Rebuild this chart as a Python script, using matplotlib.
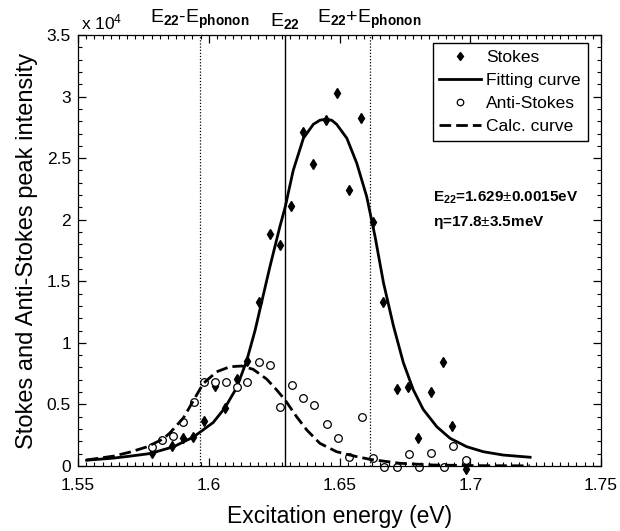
import matplotlib
matplotlib.use("Agg")
import matplotlib.pyplot as plt
import matplotlib.transforms as mtransforms
import numpy as np
from matplotlib.ticker import AutoMinorLocator, FixedLocator

plt.rcParams['font.family'] = ['Liberation Sans', 'DejaVu Sans']
plt.rcParams['mathtext.fontset'] = 'custom'
plt.rcParams['mathtext.rm'] = 'Liberation Sans'
plt.rcParams['mathtext.it'] = 'Liberation Sans:italic'
plt.rcParams['mathtext.bf'] = 'Liberation Sans:bold'

# ---- data (intensities in counts) ----
stokes_x = [1.5782, 1.5858, 1.5900, 1.5941, 1.5980, 1.6024, 1.6062, 1.6107, 1.6148,
            1.6193, 1.6234, 1.6272, 1.6315, 1.6359, 1.6400, 1.6448, 1.6492, 1.6535,
            1.6581, 1.6627, 1.6668, 1.6719, 1.6763, 1.6801, 1.6850, 1.6897, 1.6931, 1.6984]
stokes_y = [1030, 1600, 2250, 2380, 3680, 6500, 4730, 7080, 8550,
            13350, 18820, 17950, 21150, 27100, 24530, 28100, 30330, 22420,
            28300, 19800, 13350, 6250, 6440, 2250, 6010, 8420, 3250, -250]

anti_x = [1.5782, 1.5820, 1.5865, 1.5902, 1.5943, 1.5980, 1.6024, 1.6065, 1.6107,
          1.6148, 1.6193, 1.6234, 1.6273, 1.6320, 1.6362, 1.6402, 1.6451, 1.6495,
          1.6538, 1.6585, 1.6627, 1.6670, 1.6719, 1.6766, 1.6805, 1.6850, 1.6900,
          1.6933, 1.6984]
anti_y = [1570, 2110, 2450, 3580, 5200, 6790, 6790, 6790, 6420,
          6790, 8470, 8180, 4820, 6580, 5550, 4960, 3410, 2300,
          710, 3960, 620, -60, -60, 975, -60, 1030, -60,
          1650, 490]

fit_x = [1.5533, 1.5635, 1.5699, 1.5775, 1.5865, 1.5941, 1.6017, 1.6062, 1.6107,
         1.6145, 1.6177, 1.6200, 1.6234, 1.6272, 1.6292, 1.6323, 1.6362, 1.6400,
         1.6425, 1.6448, 1.6470, 1.6489, 1.6528, 1.6566, 1.6604, 1.6636, 1.6668,
         1.6706, 1.6744, 1.6782, 1.6820, 1.6872, 1.6923, 1.6986, 1.7050, 1.7126, 1.7229]
fit_y = [470, 640, 800, 1010, 1560, 2350, 3530, 4730, 6370,
         8540, 11000, 13100, 16190, 19440, 21000, 24000, 26620, 27750,
         28080, 28160, 28080, 27750, 26620, 24590, 21880, 18630, 14900,
         11400, 8400, 6200, 4600, 3190, 2250, 1570, 1160, 890, 710]

calc_x = [1.5533, 1.5635, 1.5699, 1.5763, 1.5826, 1.5852, 1.5903, 1.5941, 1.5979,
          1.6030, 1.6081, 1.6126, 1.6170, 1.6222, 1.6260, 1.6292, 1.6336, 1.6375,
          1.6425, 1.6489, 1.6540, 1.6566, 1.6617, 1.6731, 1.6859, 1.7049, 1.7228]
calc_y = [490, 800, 1130, 1550, 2200, 2700, 3900, 5300, 6700,
          7650, 8060, 8120, 7850, 7050, 6170, 5360, 4000, 2920,
          1840, 1160, 890, 760, 540, 220, 80, 25, 15]

line_E22 = 1.629
line_minus = 1.5965
line_plus = 1.6615

x_ticks = [1.55, 1.6, 1.65, 1.7, 1.75]
x_ticklabels = ['1.55', '1.6', '1.65', '1.7', '1.75']
y_ticks = [0, 0.5, 1, 1.5, 2, 2.5, 3, 3.5]
y_ticklabels = ['0', '0.5', '1', '1.5', '2', '2.5', '3', '3.5']

scale = 1e4

fig = plt.figure(figsize=(6.2, 5.31), dpi=100)
ax = fig.add_axes([78/620, 1-466/531, (601-78)/620, (466-35)/531])

ax.axvline(line_minus, color='black', lw=0.9, ls=(0, (1, 1.5)))
ax.axvline(line_plus, color='black', lw=0.9, ls=(0, (1, 1.5)))
ax.axvline(line_E22, color='black', lw=1.0)

ax.plot(stokes_x, np.array(stokes_y)/scale, ls='none', marker='d', ms=5.2,
        color='black', clip_on=False, label='Stokes')
ax.plot(fit_x, np.array(fit_y)/scale, color='black', lw=2.0, label='Fitting curve')
ax.plot(anti_x, np.array(anti_y)/scale, ls='none', marker='o', ms=5.5, mfc='white',
        mec='black', mew=0.9, clip_on=False, label='Anti-Stokes')
ax.plot(calc_x, np.array(calc_y)/scale, color='black', lw=2.0, dashes=(4.2, 1.8),
        label='Calc. curve')

ax.set_xlim(1.55, 1.75)
ax.set_ylim(0, 3.5)
ax.xaxis.set_major_locator(FixedLocator(x_ticks))
ax.set_xticklabels(x_ticklabels)
ax.yaxis.set_major_locator(FixedLocator(y_ticks))
ax.set_yticklabels(y_ticklabels)
ax.xaxis.set_minor_locator(AutoMinorLocator(16))
ax.yaxis.set_minor_locator(AutoMinorLocator(5))
ax.tick_params(which='both', direction='in', top=True, right=True, labelsize=12.5)
ax.tick_params(which='major', length=6, width=0.9)
ax.tick_params(which='minor', length=3, width=0.8)
ax.tick_params(axis='x', pad=9)
ax.tick_params(axis='y', pad=5)
for s in ax.spines.values():
    s.set_linewidth(0.9)

ax.set_xlabel('Excitation energy (eV)', fontsize=16.5, labelpad=8)
ax.set_ylabel('Stokes and Anti-Stokes peak intensity', fontsize=17, labelpad=6)

ax.text(0.005, 1.005, r'x 10$^{4}$', transform=ax.transAxes, fontsize=12.5,
        ha='left', va='bottom')
for xv, lab in [(line_minus, r'E$_{\mathbf{22}}$-E$_{\mathbf{phonon}}$'),
                (line_E22, r'E$_{\mathbf{22}}$'),
                (line_plus, r'E$_{\mathbf{22}}$+E$_{\mathbf{phonon}}$')]:
    ax.annotate(lab, xy=(xv, 1.0), xycoords=('data', 'axes fraction'),
                xytext=(0, 3), textcoords='offset points', ha='center', va='bottom',
                fontsize=14)

blend = mtransforms.blended_transform_factory(ax.transAxes, ax.transData)
ax.text(0.679, 2.18, r'E$_{\mathbf{22}}$=1.629$\pm$0.0015eV', fontsize=11,
        fontweight='bold', ha='left', va='center', transform=blend)
ax.text(0.679, 1.98, r'$\mathbf{\eta}$=17.8$\pm$3.5meV', fontsize=11,
        fontweight='bold', ha='left', va='center', transform=blend)

leg = ax.legend(loc='upper right', bbox_to_anchor=(0.975, 0.981), fontsize=12.5,
                frameon=True, fancybox=False, edgecolor='black', framealpha=1,
                borderaxespad=0, handlelength=2.4, handletextpad=0.3,
                labelspacing=0.45, borderpad=0.4, markerscale=0.85)
leg.get_frame().set_linewidth(1.0)

fig.savefig('out.png', dpi=100)
